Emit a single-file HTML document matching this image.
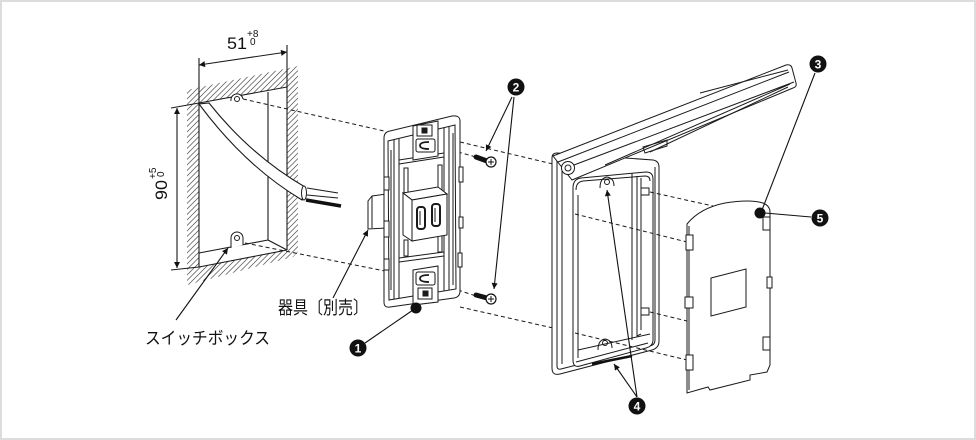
<!DOCTYPE html>
<html><head><meta charset="utf-8"><style>
html,body{margin:0;padding:0;background:#fff;}
svg{display:block;}
text{font-family:"Liberation Sans","Noto Sans CJK JP",sans-serif;}
</style></head><body>
<svg width="976" height="440" viewBox="0 0 976 440" xmlns="http://www.w3.org/2000/svg">
<defs>
<pattern id="h" patternUnits="userSpaceOnUse" width="5.5" height="5.5">
<path d="M0,5.5 L5.5,0 M-1,1 L1,-1 M4.5,6.5 L6.5,4.5" stroke="#555" stroke-width="0.75"/>
</pattern>
<marker id="ah" viewBox="0 0 10 10" refX="10" refY="5" markerWidth="10" markerHeight="6" orient="auto-start-reverse" markerUnits="userSpaceOnUse">
<path d="M0,0 L10,5 L0,10 Z" fill="#111"/>
</marker>
</defs>
<rect x="1" y="1" width="974" height="438" fill="#fff" stroke="#dcdcdc" stroke-width="2"/>

<!-- ===== switch box ===== -->
<path d="M187,90 L298,66 L298,252 L293,257 L187,285 Z M199,103 L287,87 L287,250 L199,267 Z" fill="url(#h)" fill-rule="evenodd"/>
<path d="M199,103 L287,87 L287,250 L199,267 Z" fill="#fff"/>
<g stroke="#1a1a1a" stroke-width="1.1" fill="none">
<path d="M199,58 L199,267"/>
<path d="M287,45 L287,250"/>
<path d="M199,103 L287,87"/>
<path d="M199,267 L287,250"/>
<path d="M268,92 L268,240 L287,250 M199,253 L268,240"/>
<path d="M199,65 L287,52" marker-start="url(#ah)" marker-end="url(#ah)"/>
<path d="M177,108 L177,268" marker-start="url(#ah)" marker-end="url(#ah)"/>
<path d="M171,108 L199,103 M171,270 L199,267"/>
</g>
<g stroke="#1a1a1a" stroke-width="1" fill="#fff">
<path d="M231,101 A6,6 0 1 1 243,99"/>
<circle cx="237" cy="99" r="2.5"/>
<path d="M231,248 L231,238 A6,6 0 0 1 243,238 L243,245"/>
<circle cx="237" cy="238" r="2.5"/>
</g>
<path d="M199,104 C222,135 255,172 302,200 L305,187 C262,162 232,132 209,103 Z" fill="#fff" stroke="#1a1a1a" stroke-width="1.1"/>
<ellipse cx="304" cy="193" rx="2.5" ry="7" fill="#fff" stroke="#1a1a1a" stroke-width="1"/>
<path d="M307,188 L338,193 M307,195 L338,198" stroke="#1a1a1a" stroke-width="1" fill="none"/>
<path d="M306,200 L341,206" stroke="#111" stroke-width="3.5" fill="none"/>

<text x="227" y="49" font-size="17" textLength="20" lengthAdjust="spacingAndGlyphs" fill="#111">51</text>
<text x="247" y="37" font-size="10" fill="#111">+8</text>
<text x="250" y="45" font-size="10" fill="#111">0</text>
<g transform="translate(167,200) rotate(-90)">
<text x="0" y="0" font-size="17" textLength="20" lengthAdjust="spacingAndGlyphs" fill="#111">90</text>
<text x="21" y="-11" font-size="10" fill="#111">+5</text>
<text x="23" y="-3" font-size="10" fill="#111">0</text>
</g>

<g stroke="#1a1a1a" stroke-width="1" stroke-dasharray="4 3" fill="none">
<path d="M243,99 L384,131"/>
<path d="M245,243 L385,271"/>
<path d="M460,142 L553,164"/>
<path d="M458,152 L476,157"/>
<path d="M458,290 L476,296"/>
<path d="M460,307 L553,328"/>
</g>

<!-- ===== device ===== -->
<g fill="#fff" stroke="#1a1a1a" stroke-width="1">
<path d="M368,201 L372,196 L386,194 L386,228 L368,229 Z"/>
<path d="M372,196 L372,228" fill="none"/>
<path d="M384,138 Q384,132 390,131 L452,116 Q460,115 460,121 L460,291 Q460,297 454,298 L390,307 Q384,308 384,302 Z"/>
<path d="M388,141 L455,125 L456,289 L389,300 Z" fill="none"/>
<g fill="none">
<path d="M394,140 L394,299 M399,139 L399,298 M444,128 L444,291 M449,127 L449,290"/>
<path d="M399,160 L444,153 M399,164 L444,157 M399,258 L444,252 M399,262 L444,256"/>
<path d="M404,168 L404,195 L408,195 L408,168 Z M438,165 L438,190 L442,190 L442,165 Z M404,240 L404,256 L408,256 L408,240 Z M438,236 L438,252 L442,252 L442,236 Z"/>
<path d="M391,150 L391,290 M453,133 L453,285"/>
</g>
<rect x="384" y="177" width="5" height="13"/>
<rect x="384" y="221" width="5" height="16"/>
<rect x="384" y="259" width="5" height="11"/>
<rect x="459" y="167" width="4" height="15"/>
<rect x="459" y="217" width="4" height="11"/>
<rect x="458" y="253" width="4" height="14"/>
<path d="M413,126 L438,121 L438,156 L413,160 Z"/>
<rect x="417" y="125" width="15" height="11" fill="none"/>
<rect x="422" y="128" width="5" height="5" fill="#1a1a1a"/>
<rect x="416" y="139" width="19" height="13" rx="2"/>
<path d="M429,142 Q420,142 420,145.5 Q420,149 429,149" fill="none" stroke-width="1.8"/>
<path d="M413,270 L438,266 L438,302 L413,305 Z"/>
<rect x="416" y="272" width="19" height="13" rx="2"/>
<path d="M429,275 Q420,275 420,278.5 Q420,282 429,282" fill="none" stroke-width="1.8"/>
<rect x="418" y="288" width="14" height="11" fill="none"/>
<rect x="423" y="291" width="5" height="5" fill="#1a1a1a"/>
<path d="M403,193 L438,187 L447,194 L412,200 Z"/>
<path d="M403,193 L412,200 L412,241 L403,235 Z"/>
<path d="M412,200 L447,194 L447,235 L412,241 Z"/>
<rect x="417" y="207" width="8" height="22" rx="3" stroke-width="2"/>
<rect x="432" y="204" width="8" height="22" rx="3" stroke-width="2"/>
<path d="M420,211 L420,225 M435,208 L435,222" fill="none"/>
</g>
<g>
<path d="M476,157 L487,161" stroke="#111" stroke-width="5" stroke-linecap="round"/>
<circle cx="491" cy="162" r="5" fill="#fff" stroke="#111" stroke-width="1.2"/>
<path d="M488,162 L494,162 M491,159 L491,165" stroke="#111" stroke-width="1"/>
<path d="M476,295 L487,298" stroke="#111" stroke-width="5" stroke-linecap="round"/>
<circle cx="491" cy="299" r="5" fill="#fff" stroke="#111" stroke-width="1.2"/>
<path d="M488,299 L494,299 M491,296 L491,302" stroke="#111" stroke-width="1"/>
</g>

<!-- ===== cover frame ===== -->
<g fill="#fff" stroke="#1a1a1a" stroke-width="1">
<path d="M552,158 Q552,153 557,153 L653,160 Q659,161 659,167 L659,341 Q659,348 652,350 L560,374 Q552,376 552,368 Z"/>
<path d="M557,160 L557,366 Q557,370 561,369 L650,346 Q655,345 655,340 L655,167" fill="none"/>
<path d="M562,164 L562,364" fill="none"/>
<path d="M573,188 Q573,179 581,178 L646,172 Q653,172 653,179 L653,340 Q653,346 646,348 L580,366 Q573,368 573,360 Z"/>
<path d="M576,190 Q576,182 583,181 L645,176 Q650,176 650,181" fill="none"/>
<path d="M576,362 L648,343" fill="none"/>
<path d="M578,195 L578,358" fill="none"/>
<path d="M632,173 L632,340 M637,176 L637,336 L641,334 M641,178 L641,330" fill="none"/>
<rect x="641" y="188" width="8" height="7"/>
<rect x="641" y="308" width="8" height="7"/>
<path d="M600,188 Q600,178 607,177 Q614,178 614,186" fill="none"/>
<circle cx="607" cy="182" r="2.5"/>
<path d="M598,350 Q598,340 605,339 Q612,340 612,348" fill="none"/>
<circle cx="605" cy="343" r="2.5"/>
<path d="M578,350 L650,334" fill="none"/>
</g>
<path d="M592,364 L632,356" stroke="#111" stroke-width="2.5"/>
<g fill="#fff" stroke="#1a1a1a" stroke-width="1">
<path d="M553,156 L786,65 Q791,64 792,68 L796,83 Q797,87 793,88 L572,180 Z"/>
<path d="M558,162 L789,72 M566,168 L794,82 M605,165 L790,84 M650,152 L788,87 M700,93 L788,70" fill="none"/>
<path d="M643,147 L667,140 L667,146 L645,153 Z" fill="none"/>
<circle cx="568" cy="168" r="6.5"/>
<circle cx="568" cy="168" r="3" fill="none"/>
</g>
<g stroke="#1a1a1a" stroke-width="1" stroke-dasharray="4 3" fill="none">
<path d="M575,214 L687,242"/>
<path d="M650,192 L713,206"/>
<path d="M650,312 L687,321"/>
<path d="M575,333 L687,360"/>
</g>

<!-- ===== plate ===== -->
<g fill="#fff" stroke="#1a1a1a" stroke-width="1">
<path d="M687,393 L687,224 Q700,208 725,203 Q750,199 763,203 Q770,206 770,212 L770,365 L767,372 L750,375 L750,380 L710,390 L708,387 Z"/>
<path d="M689,226 L689,390" fill="none"/>
<rect x="686" y="235" width="7" height="15"/>
<rect x="685" y="297" width="8" height="11"/>
<rect x="686" y="355" width="7" height="15"/>
<rect x="763" y="217" width="7" height="13"/>
<rect x="767" y="277" width="5" height="11"/>
<rect x="763" y="337" width="7" height="13"/>
<path d="M711,278 L746,269 L746,307 L711,316 Z" fill="none"/>
</g>

<g stroke="#111" stroke-width="1.1" fill="none">
<path d="M176,320 L228,248" marker-end="url(#ah)"/>
<path d="M333,298 L368,230" marker-end="url(#ah)"/>
<path d="M512,97 L486,151" marker-end="url(#ah)"/>
<path d="M514,97 L494,289" marker-end="url(#ah)"/>
<path d="M365,343 L413,310"/>
<path d="M637,397 L607,190" marker-end="url(#ah)"/>
<path d="M637,397 L614,364" marker-end="url(#ah)"/>
<path d="M815,73 L762,210"/>
<path d="M765,213 L811,217"/>
</g>
<circle cx="416" cy="308" r="5.5" fill="#111"/>
<circle cx="760" cy="213" r="5.5" fill="#111"/>

<g font-size="12" font-weight="bold" fill="#fff" text-anchor="middle">
<circle cx="358" cy="348" r="8.5" fill="#111"/><text x="358" y="352.5">1</text>
<circle cx="516" cy="87" r="8.5" fill="#111"/><text x="516" y="91.5">2</text>
<circle cx="818" cy="64" r="8.5" fill="#111"/><text x="818" y="68.5">3</text>
<circle cx="637" cy="406" r="8.5" fill="#111"/><text x="637" y="410.5">4</text>
<circle cx="820" cy="218" r="8.5" fill="#111"/><text x="820" y="222.5">5</text>
</g>

<text x="278" y="314" font-size="18" textLength="90" lengthAdjust="spacingAndGlyphs" fill="#111">器具〔別売〕</text>
<text x="145" y="344" font-size="17" textLength="125" lengthAdjust="spacingAndGlyphs" fill="#111">スイッチボックス</text>
</svg>
</body></html>
